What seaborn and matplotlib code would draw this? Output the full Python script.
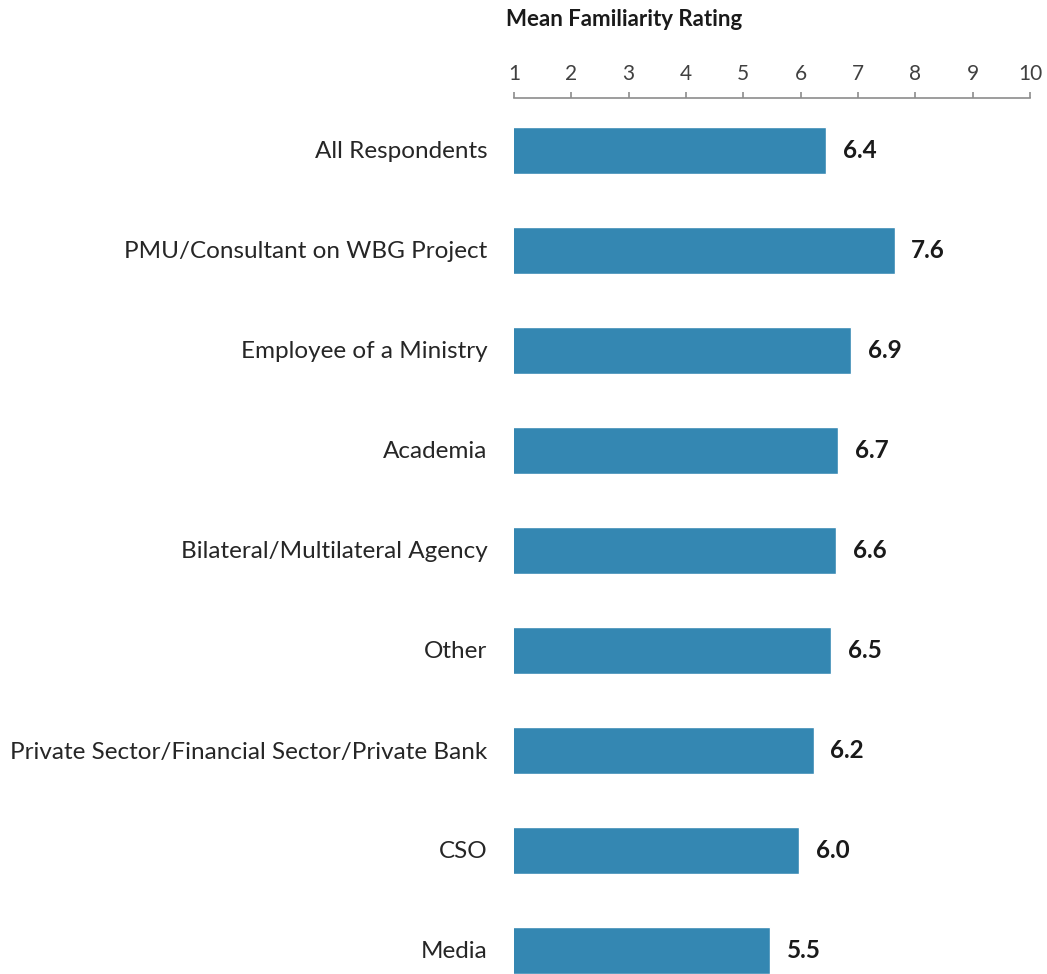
import matplotlib
matplotlib.use("Agg")
import matplotlib.pyplot as plt
import seaborn as sns
import pandas as pd

sns.set_theme(style="white")
plt.rcParams['font.family'] = ['Lato', 'DejaVu Sans']

# Data
categories = [
    "All Respondents",
    "PMU/Consultant on WBG Project",
    "Employee of a Ministry",
    "Academia",
    "Bilateral/Multilateral Agency",
    "Other",
    "Private Sector/Financial Sector/Private Bank",
    "CSO",
    "Media",
]
ratings = [6.44, 7.64, 6.88, 6.65, 6.62, 6.53, 6.23, 5.97, 5.47]
ticks = [1, 2, 3, 4, 5, 6, 7, 8, 9, 10]

df = pd.DataFrame({"group": categories, "rating": ratings})

W, H = 1047, 974
fig = plt.figure(figsize=(W / 100, H / 100), dpi=100)
ax = fig.add_axes([514 / W, 0, (1030 - 514) / W, 1 - 98 / H])

sns.barplot(data=df, x="rating", y="group", orient="h", color="#3487B2",
            width=0.47, saturation=1, ax=ax)

ax.set_xlim(1, 10)
ax.set_ylim(8.24, -0.52)
ax.set_xticks(ticks)
ax.xaxis.tick_top()
ax.tick_params(axis="x", direction="out", length=4, width=1.2, color="#8c8c8c",
               labelsize=15, labelcolor="#404040", pad=6)
ax.tick_params(axis="y", length=0, labelsize=17.5, labelcolor="#262626", pad=19)
ax.set_xlabel("")
ax.set_ylabel("")

for side in ["bottom", "left", "right"]:
    ax.spines[side].set_visible(False)
ax.spines["top"].set_color("#8c8c8c")
ax.spines["top"].set_linewidth(1.2)

# value labels
for i, v in enumerate(ratings):
    ax.text(v + 0.29, i, f"{v:.1f}", va="center", ha="left",
            fontsize=17.5, fontweight="bold", color="#1a1a1a")

fig.text(506 / W, 1 - 19 / H, "Mean Familiarity Rating", ha="left", va="center",
         fontsize=16, fontweight="bold", color="#1a1a1a")

plt.savefig("out.png", dpi=100)
